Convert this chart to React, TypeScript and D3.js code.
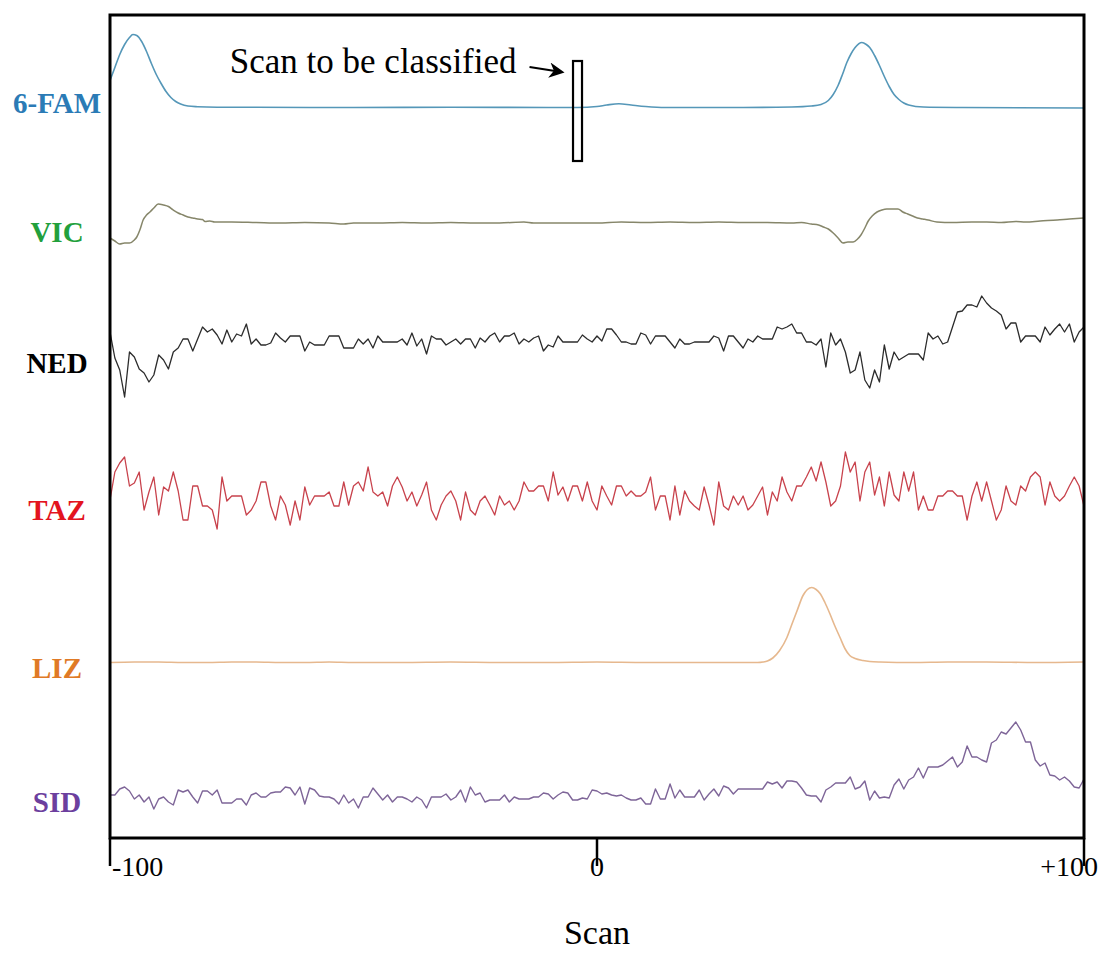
import React from "react";
import * as d3 from "d3";

// ---------- data ----------
const scanDomain = [-100, 100];
const tickValues = [-100, 0, 100];
const tickLabels = ["-100", "0", "+100"];
const dyeNames = ["6-FAM", "VIC", "NED", "TAZ", "LIZ", "SID"];

// smooth traces: [scan, relative intensity]
const famPts: [number, number][] = [
  [-100, 27], [-99, 40], [-98, 53], [-97, 63], [-96, 70], [-95.3, 73], [-94.5, 72], [-93.5, 66],
  [-92.5, 56], [-91.5, 44], [-90.5, 33], [-89.5, 24], [-88.5, 16], [-87.5, 10], [-86.5, 6],
  [-85.5, 3.5], [-84, 1.5], [-82, 0.8], [-78, 0.3], [-70, 0.2], [-50, 0], [-30, 0.2], [-10, 0],
  [-4, 0], [0, 1], [2, 2.5], [4.5, 3.8], [7, 2.5], [10, 1], [14, 0], [30, 0], [40, 0.5],
  [44, 1.5], [46, 3], [47.5, 7], [48.5, 13], [49.5, 22], [50.4, 33], [51.3, 45], [52.2, 54],
  [53, 60], [54.4, 65], [55.3, 63], [56, 60], [57, 52], [58, 42], [59, 31], [60, 21], [61, 13],
  [62, 8], [63, 4.5], [64, 2.5], [67, 0.5], [75, 0], [100, -0.5],
];
const vicPts: [number, number][] = [
  [-100, -15], [-99, -18], [-98, -21], [-97, -20], [-96, -20], [-95, -17], [-94.5, -14],
  [-93.8, -6], [-93.2, 3], [-92.5, 8], [-91.8, 11], [-91, 15], [-90.1, 19], [-89, 18],
  [-88, 16.5], [-87, 13], [-86, 10], [-85, 8], [-84, 6], [-83, 5], [-82, 4], [-81, 3.5],
  [-80.5, 1.5], [-79.5, 2], [-78.5, 1], [-75, 1], [-70, 0.5], [-65, 0], [-60, 0.5], [-55, 0],
  [-52, -1], [-50, 0], [-45, 0], [-40, 0.5], [-35, 0], [-30, 0.5], [-25, 0], [-20, 0], [-15, 1],
  [-13, 0], [-8, 0], [-4, 0], [0, 0], [5, 1], [10, 0.5], [15, 1], [20, 0.5], [25, 1], [30, 0.5],
  [35, 0.5], [40, 0], [42, 0.5], [44, -1], [45.5, -2], [46.5, -4], [47.5, -6], [48.5, -10],
  [49.5, -15], [50.5, -20], [51.5, -19], [52.6, -19], [53.5, -16], [54.2, -12], [55, -5],
  [55.7, 2], [56.5, 7], [57.5, 11], [58.5, 13], [59.5, 14], [60.5, 14], [61.8, 14], [62.8, 11],
  [63.8, 9], [64.8, 7], [65.8, 5], [66.9, 4], [68, 3], [69.8, 1], [73, 0.5], [77, 1], [80, 1],
  [83, 0.5], [86, 1.5], [88, 1], [91, 2], [94.5, 3], [97, 4], [100, 5],
];
const lizPts: [number, number][] = [
  [-100, 0], [-95, 0.5], [-90, 0.5], [-85, 0], [-80, 0], [-75, 0.5], [-70, 0.5], [-65, 0],
  [-60, 0], [-55, 0.5], [-50, 0], [-40, 0], [-30, 0.5], [-20, 0], [-10, 0], [0, 0.5], [10, 0],
  [20, 0], [30, 0], [33, 0], [34.1, 0.5], [35, 1.5], [36.1, 4.5], [37.5, 12], [39, 25], [40, 38],
  [41.1, 52], [42.3, 67], [43.2, 73], [44.1, 75], [45, 73], [45.8, 69], [46.8, 60], [47.8, 49],
  [48.8, 37], [49.9, 25], [50.9, 14], [51.9, 7], [53, 4], [54.6, 2], [56, 1], [58.1, 0.5],
  [65, 0], [72, 0.5], [80, 0.5], [90, 0], [100, 0.5],
];

// noisy traces: one value per scan from -100 to +100
const nedVals = [
  8, -18, -30, -57, -12, -17, -29, -33, -42, -35, -15, -20, -29, -12, -8, 1, 1, -11, 1, 13,
  8, 11, 5, -4, 10, -2, 6, 4, 16, -4, 1, -5, -5, -3, 7, 2, -2, 4, 4, 4,
  -11, -2, -5, -5, -5, 4, 4, 4, -8, -8, -8, 1, -4, 1, -8, 4, -2, -2, -2, -2,
  1, -5, 7, -6, 1, -14, 4, 1, 1, -5, -2, 1, -4, 1, 1, -8, 2, -2, 4, 7,
  -2, 4, 4, 7, -4, 1, -2, 2, 4, -11, -5, -7, 4, -2, -2, -2, -2, 5, 1, -2,
  4, -1, 11, 11, 5, -2, -2, -4, -4, 7, 5, -4, 4, 4, 4, -2, -8, 1, -4, -4,
  -2, -2, -2, -2, 4, 2, -11, 4, 4, -2, -8, 1, -2, 4, 1, 1, 1, 13, 11, 13,
  16, 7, 7, -2, -2, -5, 1, -27, 7, -5, 1, -12, -33, -30, -12, -40, -48, -30, -42, -5,
  -29, -12, -20, -17, -14, -14, -14, -20, 7, 1, 4, -4, -2, 13, 28, 29, 35, 35, 33, 44,
  37, 32, 29, 25, 11, 17, 17, -2, 4, 4, 4, -2, 13, 5, 11, 16, 8, 16, -2, 8,
  13,
];
const tazVals = [
  -4, 24, 33, 39, 10, 13, 24, -14, 4, 19, -19, 9, 5, 24, 5, -24, -24, 10, 10, -10,
  -10, -14, -33, 19, -5, 0, 0, 0, -19, -14, -5, 14, 14, -10, -24, 0, -9, -29, -5, -24,
  9, -9, 0, 0, 0, 4, -10, -10, 14, -9, 10, 14, 5, 29, 4, 0, 4, -10, 10, 19,
  9, -5, 4, -10, 1, 14, -14, -24, -9, 0, 5, -5, -24, 4, -14, -19, -5, 0, -9, -19,
  0, -9, -5, -14, -5, 14, 5, 5, 10, 10, -5, 24, 1, 9, -5, 10, 10, -5, 14, -5,
  -14, 10, 0, -9, 10, 10, 0, 5, 0, 0, 4, 19, -14, 0, 0, -24, 10, -19, 5, -5,
  -10, -14, 9, -9, -29, 14, -10, -14, 0, -9, 0, -14, -9, 0, 9, -19, 4, -5, 19, 4,
  -5, 10, 10, 19, 29, 15, 34, 14, -10, -5, 10, 44, 24, 34, -5, 24, 34, 1, 19, -10,
  24, 1, -5, 24, 5, 24, -14, 0, -14, -14, 0, 0, 5, 5, 0, 0, -24, 0, 14, -5,
  14, -5, -24, -14, 10, -5, -9, 10, 5, 19, 24, 19, -9, 14, 0, -5, 0, 10, 19, 10,
  -10,
];
const sidVals = [
  2, 2, 8, 10, 6, -2, 2, -5, 0, -12, -2, 0, -5, -8, 7, 5, 7, 0, -6, 6,
  6, 2, 7, -6, -6, -6, -2, -2, -8, 2, 4, 0, 0, 4, 5, 5, 10, 9, 2, 10,
  -7, 9, 7, 1, 0, 0, -2, -7, 2, -6, -2, -11, 0, 0, 9, 3, -3, 2, -5, 0,
  0, -2, -5, 0, -3, -11, 0, 0, 0, 3, -3, 0, 7, -5, 10, 2, 4, -5, -3, -3,
  -3, 2, -5, 0, -2, -2, -2, 0, 0, 4, 3, -2, 2, 5, 4, -3, -3, -1, -2, 7,
  6, 3, 4, 2, 1, 2, -1, -3, -3, -1, -7, -7, 8, -2, -2, 13, -1, 7, 0, 0,
  0, 7, -3, 3, 8, 1, 11, 9, 3, 8, 8, 8, 8, 8, 8, 15, 13, 15, 9, 16,
  16, 15, 9, 2, 1, 1, -5, 7, 10, 14, 14, 14, 20, 8, 10, 16, -3, 6, -1, 0,
  -1, 12, 18, 8, 17, 20, 29, 19, 30, 30, 30, 32, 36, 40, 30, 35, 51, 40, 40, 37,
  35, 54, 57, 65, 63, 69, 75, 67, 55, 55, 37, 31, 34, 22, 21, 17, 20, 16, 10, 9,
  18,
];

// ---------- component ----------
const W = 1119;
const H = 953;

export default function App() {
  const x = d3.scaleLinear().domain(scanDomain).range([110, 1084]);
  const plotTop = 15;
  const plotBottom = 838;

  const toPairs = (vals: number[]) => vals.map((v, i) => [scanDomain[0] + i, v] as [number, number]);

  const series = [
    { name: dyeNames[0], pts: famPts, base: 107.5, line: "#5597b8", label: "#2b7bb6", width: 1.6, smooth: true, labelY: 103 },
    { name: dyeNames[1], pts: vicPts, base: 223, line: "#86866a", label: "#22a03c", width: 1.5, smooth: true, labelY: 232 },
    { name: dyeNames[2], pts: toPairs(nedVals), base: 340, line: "#2c2c2c", label: "#000000", width: 1.3, smooth: false, labelY: 363 },
    { name: dyeNames[3], pts: toPairs(tazVals), base: 496, line: "#c8424c", label: "#e3141e", width: 1.3, smooth: false, labelY: 510 },
    { name: dyeNames[4], pts: lizPts, base: 662.5, line: "#e6b88e", label: "#e07a26", width: 1.6, smooth: true, labelY: 668 },
    { name: dyeNames[5], pts: toPairs(sidVals), base: 797, line: "#7e6598", label: "#6c3f9e", width: 1.4, smooth: false, labelY: 802 },
  ];

  const rectScan = -4;
  const rx = x(rectScan);

  return (
    <svg
      width={W}
      height={H}
      style={{ position: "absolute", left: 0, top: 0, background: "#fff" }}
      fontFamily="'Liberation Serif', 'Times New Roman', serif"
    >
      <defs>
        <marker id="ah" viewBox="0 0 10 10" refX="8" refY="5" markerWidth="7" markerHeight="7" orient="auto">
          <path d="M0,0 L10,5 L0,10 L3,5 Z" fill="#000" />
        </marker>
      </defs>
      <rect x={0} y={0} width={W} height={H} fill="#fff" />

      {series.map((s) => {
        const y = d3.scaleLinear().domain([-100, 100]).range([s.base + 100, s.base - 100]);
        const gen = d3
          .line<[number, number]>()
          .x((d) => x(d[0]))
          .y((d) => y(d[1]))
          .curve(s.smooth ? d3.curveMonotoneX : d3.curveLinear);
        return (
          <g key={s.name}>
            <path d={gen(s.pts) || ""} fill="none" stroke={s.line} strokeWidth={s.width} strokeLinejoin="round" />
            <text
              x={57}
              y={s.labelY}
              dy="0.35em"
              textAnchor="middle"
              fontWeight="bold"
              fontSize={29}
              fill={s.label}
            >
              {s.name}
            </text>
          </g>
        );
      })}

      {/* annotation */}
      <rect x={rx - 4.5} y={61} width={9} height={100} fill="none" stroke="#000" strokeWidth={2.2} />
      <line x1={rx - 48} y1={67} x2={rx - 16} y2={72} stroke="#000" strokeWidth={2.2} markerEnd="url(#ah)" />
      <text x={rx - 61} y={73} textAnchor="end" fontSize={35} fill="#000">
        Scan to be classified
      </text>

      {/* frame */}
      <rect
        x={x(scanDomain[0])}
        y={plotTop}
        width={x(scanDomain[1]) - x(scanDomain[0])}
        height={plotBottom - plotTop}
        fill="none"
        stroke="#000"
        strokeWidth={3}
      />

      {/* x axis ticks */}
      {tickValues.map((t, i) => (
        <g key={t}>
          <line x1={x(t)} x2={x(t)} y1={plotBottom} y2={plotBottom + 28} stroke="#000" strokeWidth={2.5} />
          <text
            x={i === 0 ? x(t) + 2 : i === 2 ? x(t) + 14 : x(t)}
            y={plotBottom + 38}
            textAnchor={i === 0 ? "start" : i === 2 ? "end" : "middle"}
            fontSize={28}
            fill="#000"
          >
            {tickLabels[i]}
          </text>
        </g>
      ))}
      <text x={x(0)} y={944} textAnchor="middle" fontSize={34} fill="#000">
        Scan
      </text>
    </svg>
  );
}
